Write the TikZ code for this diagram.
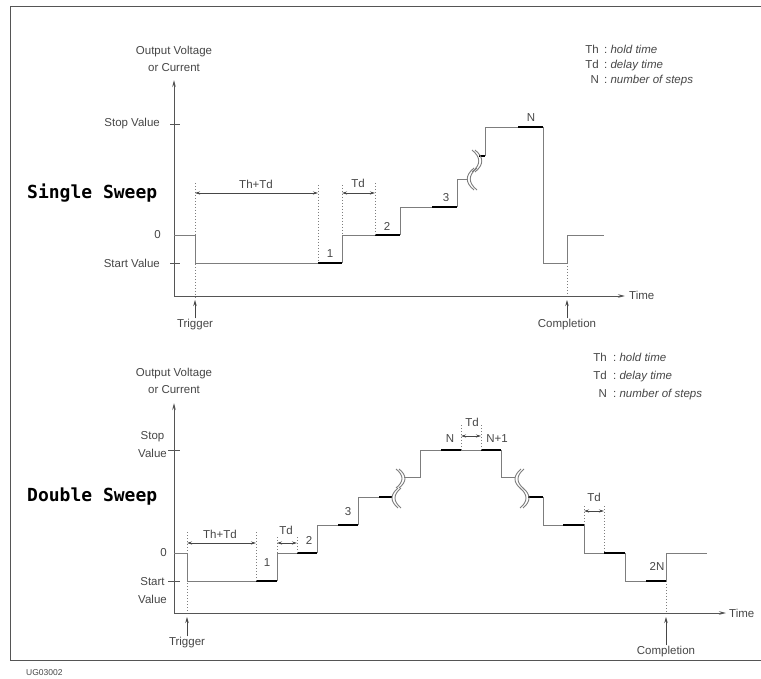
\documentclass[tikz,border=0pt]{standalone}
\usepackage{fontspec}
\setmainfont{Liberation Sans}
\newfontfamily\sweepfont{DejaVu Sans Mono}
\usepackage{tikz}
\usetikzlibrary{arrows.meta}
\definecolor{Ink}{RGB}{70,70,70}
\definecolor{Trace}{RGB}{125,125,125}
\definecolor{Frame}{RGB}{85,85,85}

% pair of break marks: x of ends, y top, y bottom, bulge
\newcommand{\sweepbreak}[4]{%
  \foreach \sh in {0,3}{%
    \draw[traceline] ({#1+\sh},#2) .. controls ({#1+\sh+#4},{#2+(#3-#2)/3}) and ({#1+\sh+#4},{#2+2*(#3-#2)/3}) .. ({#1+\sh},#3);}}

\begin{document}
\begin{tikzpicture}[
    x=1pt, y=-1pt,
    font=\fontsize{11.5}{17}\selectfont, text=Ink,
    axisline/.style={draw=Frame, line width=0.9pt},
    axisarrow/.style={axisline, -{Stealth[length=7pt,width=3.5pt]}},
    traceline/.style={draw=Trace, line width=0.9pt},
    holdseg/.style={draw=black, line width=2.2pt},
    guideline/.style={draw=Trace, line width=0.8pt, dash pattern=on 1pt off 2pt},
    dimline/.style={draw=Ink, line width=0.7pt, {Stealth[length=5pt,width=3pt]}-{Stealth[length=5pt,width=3pt]}},
    markarrow/.style={draw=Ink, line width=0.8pt, -{Stealth[length=6pt,width=3.5pt]}},
    lbl/.style={inner sep=1pt},
    sweeptitle/.style={font=\sweepfont\bfseries\fontsize{18}{20}\selectfont, text=black, anchor=west, inner sep=0pt}
]
    \useasboundingbox (0,0) rectangle (761,679);

    % Frame
    \draw[axisline] (761,6) -- (10,6) -- (10,660) -- (761,660);

    % ---------------- Single Sweep ----------------
    % Axes
    \draw[axisarrow] (174,296) -- (174,80);
    \draw[axisarrow] (174,296) -- (625,296);
    \node[lbl, anchor=west] (timeT) at (628,295) {Time};
    \node[lbl, align=center, anchor=south] (ylabT) at (174,73) {Output Voltage\\or Current};

    % Level ticks
    \draw[axisline] (170,124) -- (180,124);
    \draw[axisline] (170,263) -- (180,263);
    \node[lbl, anchor=east] (stopT) at (161,124) {Stop Value};
    \node[lbl, anchor=east] (zeroT) at (162,235) {0};
    \node[lbl, anchor=east] (startT) at (161,263) {Start Value};

    \node[sweeptitle] (titleT) at (27,193) {Single Sweep};

    % Waveform
    \draw[traceline] (174,235) -- (195,235) -- (195,263) -- (318,263);
    \draw[traceline] (342,263) -- (342,235) -- (375,235);
    \draw[traceline] (400,235) -- (400,207) -- (432,207);
    \draw[traceline] (457,207) -- (457,179) -- (468,179);
    \draw[traceline] (485,156) -- (485,127) -- (518,127);
    \draw[traceline] (543,127) -- (543,263) -- (567,263) -- (567,235) -- (604,235);
    \foreach \a/\b/\h in {318/342/263, 375/400/235, 432/457/207, 479/485/156, 518/543/127}
        \draw[holdseg] (\a,\h) -- (\b,\h);
    \sweepbreak{472}{150}{172}{9}
    \sweepbreak{474}{168}{190}{-9}

    % Step numbers
    \node[lbl] (s1T) at (330,254) {1};
    \node[lbl] (s2T) at (387,226) {2};
    \node[lbl] (s3T) at (446,198) {3};
    \node[lbl] (sNT) at (531,118) {N};

    % Timing marks
    \draw[guideline] (195,183) -- (195,300);
    \draw[guideline] (318,185) -- (318,263);
    \draw[guideline] (342,185) -- (342,235);
    \draw[guideline] (375,183) -- (375,235);
    \draw[guideline] (567,263) -- (567,296);
    \draw[dimline] (195,193) -- (318,193);
    \draw[dimline] (342,193) -- (375,193);
    \node[lbl] (thtdT) at (256,184) {Th+Td};
    \node[lbl] (tdT) at (358,183) {Td};

    % Trigger / Completion
    \node[lbl] (trigT) at (195,325) {Trigger};
    \node[lbl] (complT) at (567,325) {Completion};
    \coordinate (trigTtip) at (195,300);
    \coordinate (complTtip) at (567,300);
    \draw[markarrow] (trigT.north) -- (trigTtip);
    \draw[markarrow] (complT.north) -- (complTtip);

    % Legend
    \foreach \k/\d/\y in {Th/hold time/50, Td/delay time/65, N/number of steps/80}{
        \node[lbl, anchor=base east] (legT\k) at (600,\y+4) {\k};
        \node[lbl, anchor=base west] at (603,\y+4) {:\ \textit{\d}};
    }

    % ---------------- Double Sweep ----------------
    % Axes
    \draw[axisarrow] (174,613) -- (174,403);
    \draw[axisarrow] (174,613) -- (726,613);
    \node[lbl, anchor=west] (timeB) at (728,613) {Time};
    \node[lbl, align=center, anchor=south] (ylabB) at (174,395) {Output Voltage\\or Current};

    % Level ticks
    \draw[axisline] (168,450) -- (180,450);
    \draw[axisline] (168,581) -- (180,581);
    \node[lbl, anchor=east, align=center, font=\fontsize{11.5}{18}\selectfont] (stopB) at (168,445) {Stop\\Value};
    \node[lbl, anchor=east] (zeroB) at (168,553) {0};
    \node[lbl, anchor=east, align=center, font=\fontsize{11.5}{18}\selectfont] (startB) at (168,591) {Start\\Value};

    \node[sweeptitle] (titleB) at (27,497) {Double Sweep};

    % Waveform
    \draw[traceline] (174,553) -- (187,553) -- (187,581) -- (256,581);
    \draw[traceline] (277,581) -- (277,553) -- (297,553);
    \draw[traceline] (317,553) -- (317,525) -- (338,525);
    \draw[traceline] (358,525) -- (358,497) -- (379,497);
    \draw[traceline] (404,477) -- (420,477) -- (420,450) -- (441,450);
    \draw[traceline] (461,450) -- (481,450);
    \draw[traceline] (501,450) -- (501,477) -- (515,477);
    \draw[traceline] (543,497) -- (543,525) -- (563,525);
    \draw[traceline] (584,525) -- (584,553) -- (604,553);
    \draw[traceline] (625,553) -- (625,581) -- (646,581);
    \draw[traceline] (666,581) -- (666,553) -- (707,553);
    \foreach \a/\b/\h in {256/277/581, 297/317/553, 338/358/525, 379/392/497, 441/461/450,
                          481/501/450, 528/543/497, 563/584/525, 604/625/553, 646/666/581}
        \draw[holdseg] (\a,\h) -- (\b,\h);
    \sweepbreak{396}{469}{488}{8}
    \sweepbreak{398}{488}{508}{-8}
    \sweepbreak{521}{469}{489}{-8}
    \sweepbreak{520}{488}{508}{8}

    % Step numbers
    \node[lbl] (s1B) at (267,563) {1};
    \node[lbl] (s2B) at (309,540) {2};
    \node[lbl] (s3B) at (348,512) {3};
    \node[lbl] (sNB) at (450,439) {N};
    \node[lbl] (sN1B) at (497,439) {N+1};
    \node[lbl] (s2NB) at (657,566) {2N};

    % Timing marks
    \draw[guideline] (187,532) -- (187,613);
    \draw[guideline] (256,532) -- (256,581);
    \draw[guideline] (277,537) -- (277,553);
    \draw[guideline] (297,537) -- (297,553);
    \draw[guideline] (461,425) -- (461,450);
    \draw[guideline] (481,425) -- (481,450);
    \draw[guideline] (584,506) -- (584,525);
    \draw[guideline] (604,506) -- (604,553);
    \draw[guideline] (666,581) -- (666,613);
    \draw[dimline] (187,543) -- (256,543);
    \draw[dimline] (277,543) -- (297,543);
    \draw[dimline] (461,436) -- (481,436);
    \draw[dimline] (584,511) -- (604,511);
    \node[lbl] (thtdB) at (220,534) {Th+Td};
    \node[lbl] (tdB1) at (286,530) {Td};
    \node[lbl] (tdB2) at (472,422) {Td};
    \node[lbl] (tdB3) at (594,497) {Td};

    % Trigger / Completion
    \node[lbl] (trigB) at (187,643) {Trigger};
    \node[lbl] (complB) at (666,652) {Completion};
    \coordinate (trigBtip) at (187,617);
    \coordinate (complBtip) at (666,617);
    \draw[markarrow] (trigB.north) -- (trigBtip);
    \draw[markarrow] (complB.north) -- (complBtip);

    % Legend
    \foreach \k/\d/\y in {Th/hold time/357, Td/delay time/375, N/number of steps/393}{
        \node[lbl, anchor=base east] (legB\k) at (608,\y+4) {\k};
        \node[lbl, anchor=base west] at (612,\y+4) {:\ \textit{\d}};
    }

    \node[lbl, anchor=west, font=\fontsize{8.5}{10}\selectfont] (figid) at (25,673) {UG03002};
\end{tikzpicture}
\end{document}
